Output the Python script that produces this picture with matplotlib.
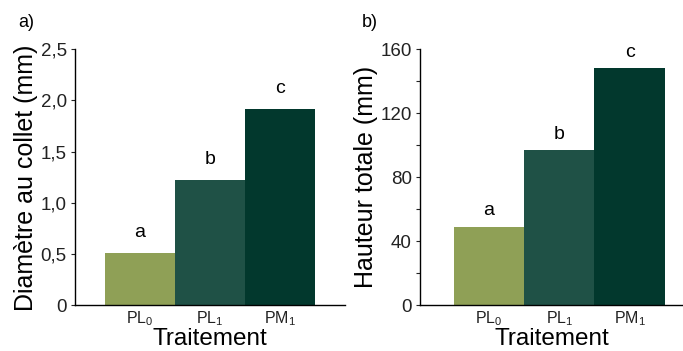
import matplotlib
matplotlib.use("Agg")
import matplotlib.pyplot as plt

plt.rcParams['font.family'] = ['Liberation Sans', 'DejaVu Sans']
plt.rcParams['mathtext.fontset'] = 'custom'
plt.rcParams['mathtext.rm'] = 'Liberation Sans'

# data
treatments = ["PL$_\\mathregular{0}$", "PL$_\\mathregular{1}$", "PM$_\\mathregular{1}$"]
diametre = [0.51, 1.22, 1.92]
hauteur = [49, 97, 148]
letters = ["a", "b", "c"]
colors = ["#8FA056", "#1F5146", "#02382D"]

fig = plt.figure(figsize=(6.83, 3.51), dpi=100)
ax1 = fig.add_axes([0.1098, 0.130, 0.395, 0.7296])
ax2 = fig.add_axes([0.615, 0.130, 0.385, 0.7296])

def style(ax):
    for s in ["top", "right"]:
        ax.spines[s].set_visible(False)
    ax.spines["left"].set_linewidth(1.0)
    ax.spines["bottom"].set_linewidth(1.0)
    ax.tick_params(axis="y", length=3, width=0.8, labelsize=13.5, pad=3, colors="#222222")
    ax.tick_params(axis="x", length=0, labelsize=11.5, pad=3, colors="#222222")
    ax.set_xlabel("Traitement", fontsize=17.5, labelpad=0)

x = [0, 1, 2]

# panel a
ax1.bar(x, diametre, width=1.0, color=colors)
ax1.set_xlim(-0.93, 2.93)
ax1.set_ylim(0, 2.5)
ax1.set_yticks([0, 0.5, 1.0, 1.5, 2.0, 2.5])
ax1.set_yticklabels(["0", "0,5", "1,0", "1,5", "2,0", "2,5"])
ax1.set_xticks(x)
ax1.set_xticklabels(treatments)
ax1.set_ylabel("Diamètre au collet (mm)", fontsize=18, labelpad=2)
for xi, v, l in zip(x, diametre, letters):
    ax1.text(xi, v + 0.2, l, ha="center", va="center", fontsize=14)
style(ax1)

# panel b
ax2.bar(x, hauteur, width=1.0, color=colors)
ax2.set_xlim(-0.98, 2.76)
ax2.set_ylim(0, 160)
ax2.set_yticks(range(0, 161, 20))
ax2.set_yticklabels([str(v) if v % 40 == 0 else "" for v in range(0, 161, 20)])
ax2.set_xticks(x)
ax2.set_xticklabels(treatments)
ax2.set_ylabel("Hauteur totale (mm)", fontsize=18, labelpad=2)
for xi, v, l in zip(x, hauteur, letters):
    ax2.text(xi, v + 10, l, ha="center", va="center", fontsize=14)
style(ax2)

fig.text(0.026, 0.935, "a)", fontsize=13, va="center")
fig.text(0.530, 0.935, "b)", fontsize=13, va="center")

fig.savefig("out.png", dpi=100)
